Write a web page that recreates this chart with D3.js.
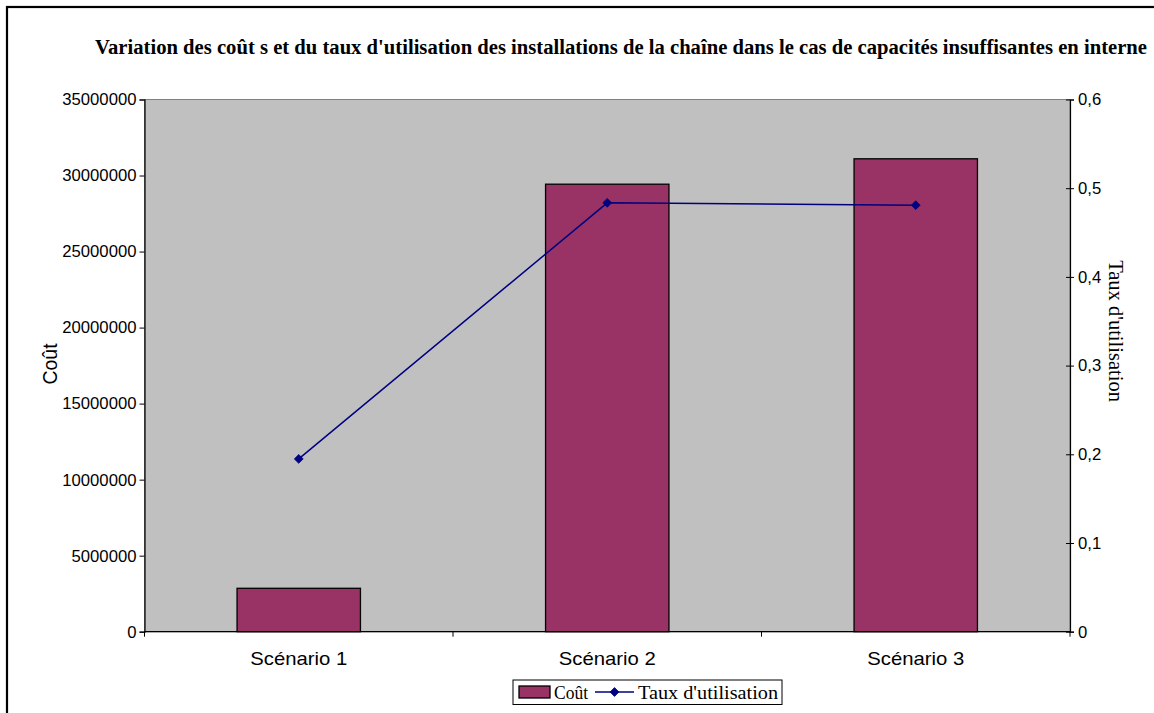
<!DOCTYPE html>
<html>
<head>
<meta charset="utf-8">
<script src="https://cdn.jsdelivr.net/npm/d3@7"></script>
<style>
  html, body { margin: 0; padding: 0; background: #fff; }
  svg { display: block; }
</style>
</head>
<body>
<svg id="chart" width="1154" height="713"></svg>
<script>
// Scenario data
const categories = ["Scénario 1", "Scénario 2", "Scénario 3"];
const costValues = [2855000, 29430000, 31100000];
const utilisationValues = [0.1948, 0.4835, 0.4809];
const costTicks = [0, 5000000, 10000000, 15000000, 20000000, 25000000, 30000000, 35000000];
const rateTicks = [0, 0.1, 0.2, 0.3, 0.4, 0.5, 0.6];

const titleText = "Variation des coût s et du taux d'utilisation des installations de la chaîne dans le cas de capacités insuffisantes en interne";
const leftLabel = "Coût";
const rightLabel = "Taux d'utilisation";
const legendBar = "Coût";
const legendLine = "Taux d'utilisation";

const svg = d3.select("#chart");
const W = 1154, H = 713;
const plot = { left: 144.5, right: 1070, top: 99.5, bottom: 631.7 };

const serif = "'Liberation Serif', 'Times New Roman', serif";
const sans = "'Liberation Sans', Arial, sans-serif";
const barColor = "#993366";
const lineColor = "#000080";

// Outer frame
svg.append("rect")
  .attr("x", 7).attr("y", 7)
  .attr("width", W + 20).attr("height", H + 20)
  .attr("fill", "#fff").attr("stroke", "#000").attr("stroke-width", 2.2);

// Title
svg.append("text")
  .attr("x", 621).attr("y", 54)
  .attr("text-anchor", "middle")
  .attr("font-family", serif).attr("font-weight", "bold").attr("font-size", 20.5)
  .attr("textLength", 1052).attr("lengthAdjust", "spacingAndGlyphs")
  .text(titleText);

// Scales
const x = d3.scaleBand().domain(categories).range([plot.left, plot.right]).paddingInner(0).paddingOuter(0);
const yCost = d3.scaleLinear().domain([0, 35000000]).range([plot.bottom, plot.top]);
const yRate = d3.scaleLinear().domain([0, 0.6]).range([plot.bottom, plot.top]);

// Plot area
svg.append("rect")
  .attr("x", plot.left).attr("y", plot.top)
  .attr("width", plot.right - plot.left).attr("height", plot.bottom - plot.top)
  .attr("fill", "#c0c0c0").attr("stroke", "#808080").attr("stroke-width", 1);

// Bars
const barW = x.bandwidth() * 0.4;
svg.append("g").selectAll("rect")
  .data(categories)
  .join("rect")
  .attr("x", d => x(d) + x.bandwidth() / 2 - barW / 2)
  .attr("y", (d, i) => yCost(costValues[i]))
  .attr("width", barW)
  .attr("height", (d, i) => plot.bottom - yCost(costValues[i]))
  .attr("fill", barColor).attr("stroke", "#000").attr("stroke-width", 1.3);

// Left axis
const leftAxis = d3.axisLeft(yCost).tickValues(costTicks).tickSize(5).tickPadding(3)
  .tickFormat(d => String(d));
const gL = svg.append("g").attr("transform", `translate(${plot.left},0)`).call(leftAxis);
gL.select(".domain").attr("stroke", "#000").attr("stroke-width", 1.2);
gL.selectAll(".tick line").attr("stroke", "#000");
gL.selectAll("text").attr("font-family", sans).attr("font-size", 16.7).attr("fill", "#000");

// Right axis
const rightAxis = d3.axisRight(yRate).tickValues(rateTicks).tickSize(4).tickPadding(4)
  .tickFormat(d => d === 0 ? "0" : d3.format(".1f")(d).replace(".", ","));
const gR = svg.append("g").attr("transform", `translate(${plot.right},0)`).call(rightAxis);
gR.select(".domain").attr("stroke", "#000").attr("stroke-width", 1.2);
gR.selectAll(".tick line").attr("stroke", "#000").attr("x1", -4);
gR.selectAll("text").attr("font-family", sans).attr("font-size", 16.7).attr("fill", "#000");

// Bottom axis
const gB = svg.append("g").attr("transform", `translate(0,${plot.bottom})`);
gB.append("line").attr("x1", plot.left).attr("x2", plot.right)
  .attr("stroke", "#000").attr("stroke-width", 1.2);
const boundaries = categories.map(c => x(c)).concat([plot.right]);
gB.selectAll("line.tk").data(boundaries).join("line").attr("class", "tk")
  .attr("x1", d => d).attr("x2", d => d).attr("y1", 0).attr("y2", 5)
  .attr("stroke", "#000");
gB.selectAll("text").data(categories).join("text")
  .attr("x", d => x(d) + x.bandwidth() / 2).attr("y", 33)
  .attr("text-anchor", "middle")
  .attr("font-family", sans).attr("font-size", 18.5)
  .attr("textLength", 97).attr("lengthAdjust", "spacingAndGlyphs")
  .text(d => d);

// Axis titles
svg.append("text")
  .attr("transform", `translate(57,364) rotate(-90)`)
  .attr("text-anchor", "middle")
  .attr("font-family", sans).attr("font-size", 19.5)
  .text(leftLabel);
svg.append("text")
  .attr("transform", `translate(1109,331) rotate(90)`)
  .attr("text-anchor", "middle")
  .attr("font-family", serif).attr("font-size", 20.5)
  .text(rightLabel);

// Line series
const pts = categories.map((c, i) => [x(c) + x.bandwidth() / 2, yRate(utilisationValues[i])]);
svg.append("path")
  .attr("d", d3.line()(pts))
  .attr("fill", "none").attr("stroke", lineColor).attr("stroke-width", 1.5);
const diamond = d3.symbol().type(d3.symbolDiamond2).size(50);
svg.append("g").selectAll("path")
  .data(pts).join("path")
  .attr("transform", d => `translate(${d[0]},${d[1]})`)
  .attr("d", diamond)
  .attr("fill", lineColor).attr("stroke", lineColor).attr("stroke-width", 0.8);

// Legend
const lg = svg.append("g").attr("transform", "translate(513,680)");
lg.append("rect").attr("x", 0).attr("y", 0).attr("width", 269).attr("height", 24.5)
  .attr("fill", "#fff").attr("stroke", "#000").attr("stroke-width", 1);
lg.append("rect").attr("x", 6).attr("y", 6).attr("width", 31).attr("height", 12)
  .attr("fill", barColor).attr("stroke", "#000").attr("stroke-width", 1.3);
lg.append("text").attr("x", 41).attr("y", 19)
  .attr("font-family", serif).attr("font-size", 19.5)
  .attr("textLength", 34).attr("lengthAdjust", "spacingAndGlyphs").text(legendBar);
lg.append("line").attr("x1", 82).attr("x2", 121).attr("y1", 12).attr("y2", 12)
  .attr("stroke", lineColor).attr("stroke-width", 1.5);
lg.append("path").attr("transform", "translate(101.5,12)").attr("d", diamond)
  .attr("fill", lineColor).attr("stroke", lineColor).attr("stroke-width", 0.8);
lg.append("text").attr("x", 125).attr("y", 19)
  .attr("font-family", serif).attr("font-size", 19.5)
  .attr("textLength", 140).attr("lengthAdjust", "spacingAndGlyphs").text(legendLine);
</script>
</body>
</html>
